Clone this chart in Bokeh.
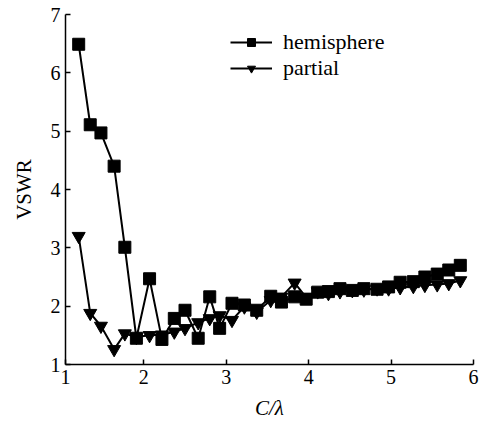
from bokeh.plotting import figure
from bokeh.models import FixedTicker, Legend, LegendItem
from bokeh.embed import file_html
from bokeh.resources import INLINE

c_lambda = [1.21, 1.35, 1.48, 1.64, 1.77, 1.91, 2.07, 2.22, 2.37, 2.50, 2.66,
            2.80, 2.92, 3.07, 3.22, 3.37, 3.54, 3.67, 3.83, 3.97, 4.11, 4.24,
            4.38, 4.53, 4.67, 4.83, 4.97, 5.11, 5.27, 5.41, 5.56, 5.70, 5.84]
hemisphere = [6.49, 5.11, 4.97, 4.40, 3.01, 1.45, 2.47, 1.43, 1.79, 1.93, 1.45,
              2.16, 1.62, 2.05, 2.02, 1.93, 2.17, 2.07, 2.16, 2.12, 2.24, 2.25,
              2.30, 2.27, 2.30, 2.29, 2.33, 2.41, 2.42, 2.50, 2.55, 2.62, 2.70]
partial = [3.20, 1.88, 1.66, 1.26, 1.53, 1.47, 1.50, 1.51, 1.56, 1.62, 1.72,
           1.79, 1.84, 1.76, 1.99, 1.90, 2.10, 2.16, 2.40, 2.15, 2.25, 2.22,
           2.25, 2.27, 2.28, 2.30, 2.30, 2.32, 2.34, 2.36, 2.37, 2.39, 2.44]
# the reference axis starts a little right of 1; its first label "1" sits at the axis start
x_start = 1.05
x_ticks = [x_start, 2, 3, 4, 5, 6]
x_tick_labels = {x_start: "1"}
y_ticks = [1, 2, 3, 4, 5, 6, 7]

FONT = "Liberation Serif"

p = figure(width=490, height=422, x_range=(x_start, 6), y_range=(1, 7),
           output_backend="svg", toolbar_location=None,
           min_border_left=65, min_border_right=17, min_border_top=14,
           min_border_bottom=58)
p.outline_line_color = None
p.grid.visible = False
p.background_fill_color = "white"

l1 = p.line(c_lambda, hemisphere, line_color="black", line_width=2)
m1 = p.scatter(c_lambda, hemisphere, marker="square", size=12,
               fill_color="black", line_color="black")
l2 = p.line(c_lambda, partial, line_color="black", line_width=2)
m2 = p.scatter(c_lambda, partial, marker="inverted_triangle", size=13,
               fill_color="black", line_color="black")

for ax in (p.xaxis[0], p.yaxis[0]):
    ax.axis_line_width = 1.5
    ax.axis_line_color = "black"
    ax.major_tick_in = 5
    ax.major_tick_out = 0
    ax.minor_tick_line_color = None
    ax.major_tick_line_color = "black"
    ax.major_tick_line_width = 1.5
    ax.major_label_text_font = FONT
    ax.major_label_text_font_size = "20px"
    ax.major_label_text_color = "black"
    ax.axis_label_text_font = FONT
    ax.axis_label_text_font_size = "21px"
    ax.axis_label_text_font_style = "normal"
    ax.axis_label_text_color = "black"

p.xaxis.ticker = FixedTicker(ticks=x_ticks)
p.xaxis.major_label_overrides = x_tick_labels
p.yaxis.ticker = FixedTicker(ticks=y_ticks)
p.xaxis.major_label_standoff = 5
p.yaxis.major_label_standoff = 5
p.xaxis.axis_label = "C/λ"
p.xaxis.axis_label_text_font_style = "italic"
p.xaxis.axis_label_standoff = 9
p.yaxis.axis_label = "VSWR"
p.yaxis.axis_label_standoff = 12

legend = Legend(items=[LegendItem(label="hemisphere", renderers=[l1, m1]),
                       LegendItem(label="partial", renderers=[l2, m2])],
                location=(165, 283))
legend.border_line_color = None
legend.background_fill_alpha = 0
legend.label_text_font = FONT
legend.label_text_font_size = "22px"
legend.label_text_color = "black"
legend.glyph_width = 42
legend.glyph_height = 20
legend.label_height = 20
legend.spacing = -3
legend.padding = 0
legend.margin = 0
legend.label_standoff = 11
p.add_layout(legend, "center")

open("out.html", "w").write(file_html(p, INLINE))
